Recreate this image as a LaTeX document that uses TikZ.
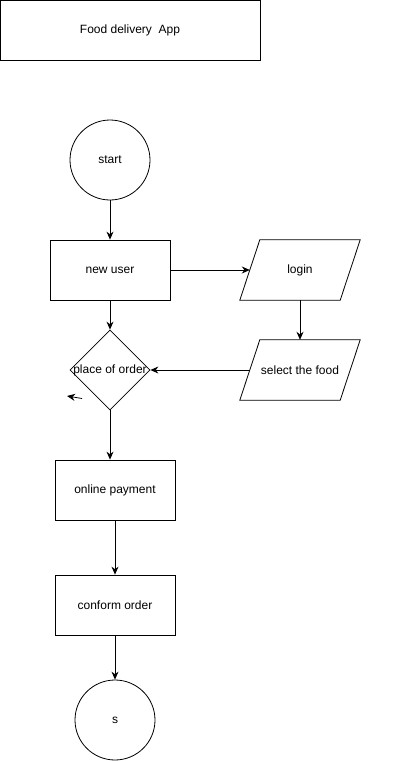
\documentclass[tikz,border=0pt]{standalone}
\usepackage{fontspec}
\setmainfont{Liberation Sans}
\usetikzlibrary{shapes.geometric,arrows.meta}
\begin{document}
\begin{tikzpicture}[x=1pt,y=-1pt,
  every node/.style={font=\fontsize{12}{14}\selectfont, inner sep=0pt},
  box/.style={draw, line width=0.8pt, minimum width=120pt, minimum height=60pt},
  circ/.style={draw, line width=0.8pt, circle, minimum size=80pt},
  para/.style={minimum width=100pt, minimum height=60pt},
  dia/.style={draw, line width=0.8pt, diamond, minimum width=80pt, minimum height=80pt, aspect=1},
  conn/.style={draw, line width=0.8pt, -{Stealth[length=8pt,width=7pt]}}]
\useasboundingbox (0,0) rectangle (401,761);
\node[draw, line width=0.8pt, minimum width=260pt, minimum height=60pt] (title) at (130,30) {Food delivery~ App};
\node[circ] (start) at (110,160) {start};
\node[box] (newuser) at (110,270) {new user};
\node[para] (login) at (300,270) {login};
\node[para] (select) at (300,370) {select the food};
\draw[line width=0.8pt] ([xshift=-10pt]login.south west) -- ([xshift=10pt]login.north west) -- ([xshift=10pt]login.north east) -- ([xshift=-10pt]login.south east) -- cycle;
\draw[line width=0.8pt] ([xshift=-10pt]select.south west) -- ([xshift=10pt]select.north west) -- ([xshift=10pt]select.north east) -- ([xshift=-10pt]select.south east) -- cycle;
\node[dia] (order) at (110,370) {};
\node at (110,370) {place of order};
\node[box] (pay) at (115,490) {online payment};
\node[box] (conform) at (115,605) {conform order};
\node[circ] (s) at (115,720) {s};
\coordinate (sa) at (82,398.5);
\coordinate (sb) at (67,396);
\path[conn] (start) -- (newuser);
\path[conn] (newuser.east) -- (login.west);
\path[conn] (login.south) -- (select.north);
\path[conn] (select.west) -- (order.east);
\path[conn] (newuser.south) -- (order.north);
\path[conn] (order.south) -- (order.south |- pay.north);
\path[conn] (pay) -- (conform);
\path[conn] (conform) -- (s);
\path[conn] (sa) -- (sb);
\end{tikzpicture}
\end{document}
